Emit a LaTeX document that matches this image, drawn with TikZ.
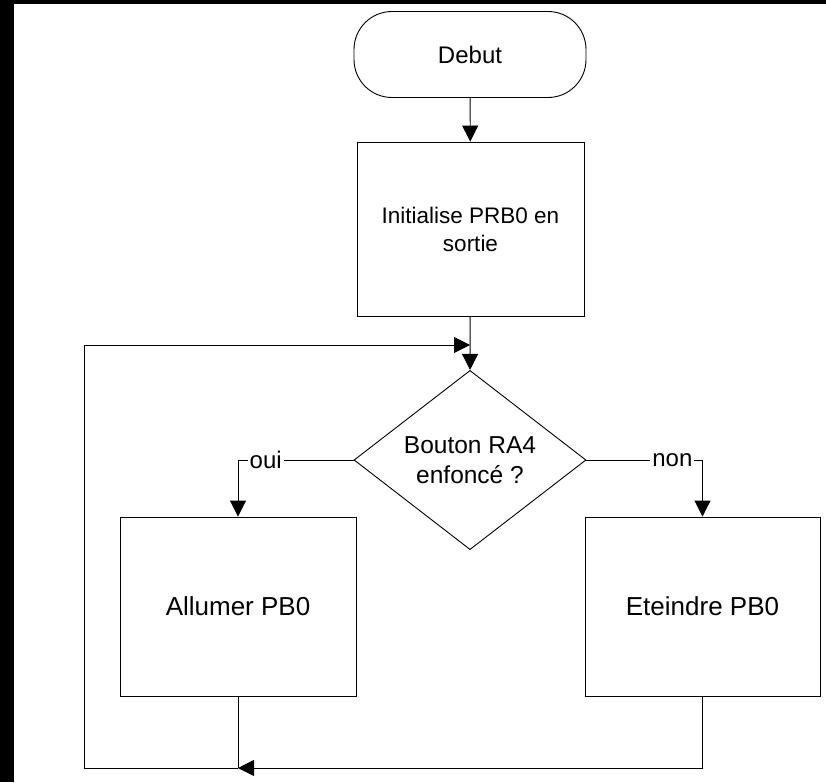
\documentclass[tikz,border=0pt]{standalone}
\usepackage{fontspec}
\setmainfont{Liberation Sans}
\usetikzlibrary{arrows.meta,shapes.geometric}

\begin{document}
\begin{tikzpicture}[x=1pt,y=-1pt,
  every node/.style={font=\fontsize{24}{28}\selectfont},
  base/.style={draw, line width=0.9pt, inner sep=0pt, align=center},
  term/.style={base, rectangle, rounded corners=38pt, minimum width=232pt, minimum height=86pt},
  proc/.style={base, rectangle},
  dec/.style={base, diamond, minimum width=232pt, minimum height=172pt},
  lbl/.style={fill=white, inner sep=2pt},
  link/.style={line width=0.9pt},
  arr/.style={link, -{Triangle[length=16pt, width=16pt]}}]

  \useasboundingbox (0,0) rectangle (826,782);
  \fill[white] (0,0) rectangle (826,782);
  % dark frame edges
  \fill[black] (0,0) rectangle (14,782);
  \fill[black] (0,0) rectangle (826,4);

  % blocks
  \node[term] (debut) at (470,54.5) {Debut};
  \node[proc, minimum width=227pt, minimum height=174pt, font=\fontsize{22.5}{28}\selectfont] (init) at (470.5,229) {Initialise PRB0 en\\sortie};
  \node[dec, font=\fontsize{24.5}{30}\selectfont] (test) at (470,460) {Bouton RA4\\enfonc\'e ?};
  \node[proc, minimum width=236pt, minimum height=179pt, font=\fontsize{26}{30}\selectfont] (on) at (238,606.5) {Allumer PB0};
  \node[proc, minimum width=235pt, minimum height=179pt, font=\fontsize{26}{30}\selectfont] (off) at (702.5,606.5) {Eteindre PB0};

  % junction points of the loop
  \coordinate (jt) at (470,345);
  \coordinate (jb) at (238,768);
  \coordinate (loopbl) at (84,768);

  % connectors
  \draw[arr] (debut) -- (init);
  \draw[arr] (init) -- (test.north);
  \draw[arr] (test.west) -| node[lbl, pos=0.38] {oui} (on.north);
  \draw[arr] (test.east) -| node[lbl, pos=0.37] {non} (off.north);
  \draw[link] (on.south) -- (jb);
  \draw[arr] (off.south) |- (jb);
  \draw[arr] (jb) -- (loopbl) |- (jt);
\end{tikzpicture}
\end{document}
